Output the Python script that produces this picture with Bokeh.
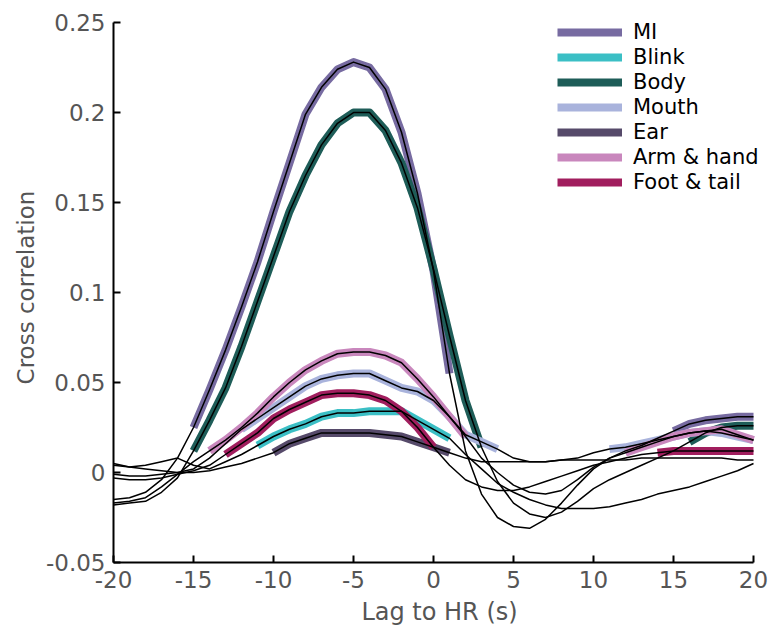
import math
from bokeh.plotting import figure
from bokeh.models import Legend, LegendItem, Range1d, FixedTicker, CustomJSTickFormatter, Title
from bokeh.embed import file_html
from bokeh.resources import INLINE

# ---------------- data ----------------
lags = list(range(-20, 21))

mi = [-0.015, -0.014, -0.011, -0.004, 0.008, 0.025, 0.046, 0.068, 0.092, 0.117,
      0.145, 0.172, 0.199, 0.214, 0.224, 0.228, 0.225, 0.213, 0.189, 0.155,
      0.112, 0.055, 0.012, -0.012, -0.025, -0.030, -0.031, -0.026, -0.017, -0.007,
      0.002, 0.008, 0.012, 0.015, 0.019, 0.023, 0.027, 0.029, 0.030, 0.031, 0.031]

blink = [0.005, 0.003, 0.004, 0.006, 0.008, 0.004, 0.002, 0.006, 0.010, 0.015,
         0.020, 0.024, 0.027, 0.031, 0.033, 0.033, 0.034, 0.034, 0.034, 0.029,
         0.024, 0.019, 0.010, 0.002, -0.006, -0.011, -0.015, -0.018, -0.020, -0.020,
         -0.020, -0.019, -0.017, -0.015, -0.012, -0.010, -0.008, -0.005, -0.002, 0.001, 0.005]

body = [-0.018, -0.017, -0.016, -0.011, -0.003, 0.012, 0.029, 0.047, 0.070, 0.095,
        0.120, 0.145, 0.165, 0.182, 0.194, 0.200, 0.200, 0.190, 0.172, 0.147,
        0.113, 0.076, 0.040, 0.014, -0.005, -0.017, -0.023, -0.025, -0.022, -0.016,
        -0.009, -0.004, 0.000, 0.004, 0.008, 0.012, 0.017, 0.022, 0.025, 0.026, 0.026]

mouth = [-0.001, -0.002, -0.002, -0.001, 0.000, 0.002, 0.008, 0.016, 0.024, 0.030,
         0.036, 0.042, 0.048, 0.052, 0.054, 0.055, 0.055, 0.051, 0.047, 0.045,
         0.040, 0.031, 0.021, 0.017, 0.013, 0.008, 0.006, 0.006, 0.007, 0.008,
         0.011, 0.013, 0.014, 0.016, 0.018, 0.020, 0.022, 0.023, 0.022, 0.020, 0.018]

ear = [0.004, 0.003, 0.002, 0.001, 0.000, 0.000, 0.001, 0.003, 0.005, 0.008,
       0.011, 0.016, 0.019, 0.022, 0.022, 0.022, 0.022, 0.021, 0.020, 0.017,
       0.014, 0.011, 0.008, 0.006, 0.006, 0.006, 0.006, 0.006, 0.007, 0.007,
       0.007, 0.007, 0.007, 0.008, 0.008, 0.008, 0.008, 0.008, 0.008, 0.007, 0.007]

arm = [-0.017, -0.016, -0.014, -0.008, -0.001, 0.006, 0.012, 0.018, 0.025, 0.033,
       0.042, 0.050, 0.057, 0.062, 0.066, 0.067, 0.067, 0.065, 0.061, 0.052,
       0.042, 0.031, 0.020, 0.008, 0.000, -0.007, -0.011, -0.012, -0.010, -0.004,
       0.003, 0.008, 0.011, 0.014, 0.017, 0.020, 0.022, 0.023, 0.024, 0.021, 0.018]

foot = [-0.003, -0.004, -0.004, -0.003, -0.001, 0.001, 0.004, 0.010, 0.016, 0.022,
        0.030, 0.035, 0.039, 0.043, 0.044, 0.044, 0.043, 0.040, 0.034, 0.025,
        0.014, 0.004, -0.004, -0.008, -0.010, -0.010, -0.008, -0.005, -0.002, 0.001,
        0.004, 0.006, 0.008, 0.010, 0.011, 0.012, 0.012, 0.012, 0.012, 0.012, 0.012]

# lag intervals drawn as thick coloured bands
mi_sig = [(-15, 1), (15, 20)]
blink_sig = [(-11, 1)]
body_sig = [(-15, 3), (16, 20)]
mouth_sig = [(-12, 4), (11, 20)]
ear_sig = [(-10, 1)]
arm_sig = [(-14, 2), (12, 20)]
foot_sig = [(-13, 0), (14, 20)]

names = ["MI", "Blink", "Body", "Mouth", "Ear", "Arm & hand", "Foot & tail"]
values = [mi, blink, body, mouth, ear, arm, foot]
sigs = [mi_sig, blink_sig, body_sig, mouth_sig, ear_sig, arm_sig, foot_sig]
colors = ["#776ba1", "#3bbfc5", "#1e5d58", "#a9b3dc", "#564a6a", "#c987bd", "#a11e5e"]

x_ticks = [-20, -15, -10, -5, 0, 5, 10, 15, 20]
y_ticks = [-0.05, 0, 0.05, 0.1, 0.15, 0.2, 0.25]
x_bounds = (-20, 20)
y_bounds = (-0.05, 0.25)

# ---------------- figure ----------------
FONT = "DejaVu Sans"
# the frame is a little larger than the axes so the legend is not clipped
p = figure(frame_width=652, frame_height=550, output_backend="svg", toolbar_location=None,
           x_range=Range1d(-20, 20.75), y_range=Range1d(-0.05, 0.25556),
           min_border_left=113, min_border_top=12, min_border_right=3, min_border_bottom=70)
p.outline_line_color = None
p.grid.visible = False
p.background_fill_color = "white"

fmt = CustomJSTickFormatter(code="return tick.toString();")
for ax, ticks, bnds in ((p.xaxis[0], x_ticks, x_bounds), (p.yaxis[0], y_ticks, y_bounds)):
    ax.ticker = FixedTicker(ticks=ticks)
    ax.bounds = bnds
    ax.formatter = fmt
    ax.axis_line_color = "black"
    ax.axis_line_width = 2
    ax.major_tick_line_color = "black"
    ax.major_tick_line_width = 2
    ax.major_tick_in = 7
    ax.major_tick_out = 0
    ax.minor_tick_line_color = None
    ax.major_label_text_font = FONT
    ax.major_label_text_font_size = "23px"
    ax.major_label_text_color = "#555555"
    ax.major_label_standoff = 8
    ax.axis_label_text_font = FONT
    ax.axis_label_text_font_size = "24px"
    ax.axis_label_text_font_style = "normal"
    ax.axis_label_text_color = "#555555"
p.xaxis[0].axis_label_standoff = 7
p.xaxis.axis_label = "Lag to HR (s)"

# y axis label as a left-side title so it can sit a little above the centre, as in the original
ylab_kw = dict(text="Cross correlation", align="center", offset=46,
               text_font=FONT, text_font_size="23px", text_font_style="normal",
               text_color="#555555")
if "standoff" in Title.properties():
    ylab_kw["standoff"] = 8
p.add_layout(Title(**ylab_kw), "left")

thick_renderers = []
for vals, sig, col in zip(values, sigs, colors):
    ys = [v if any(a <= t <= b for a, b in sig) else math.nan for t, v in zip(lags, vals)]
    r = p.line(lags, ys, line_color=col, line_width=8, line_join="round")
    thick_renderers.append(r)

for vals in values:
    p.line(lags, vals, line_color="black", line_width=1.5, line_join="round")

legend = Legend(items=[LegendItem(label=n, renderers=[r]) for n, r in zip(names, thick_renderers)],
                location=(444, 368), glyph_width=65, glyph_height=20, label_height=20,
                label_standoff=11, spacing=1, padding=0, margin=0,
                label_text_font=FONT, label_text_font_size="21px", label_text_color="black",
                border_line_alpha=0, background_fill_alpha=0)
p.add_layout(legend)

open("out.html", "w").write(file_html(p, INLINE))
